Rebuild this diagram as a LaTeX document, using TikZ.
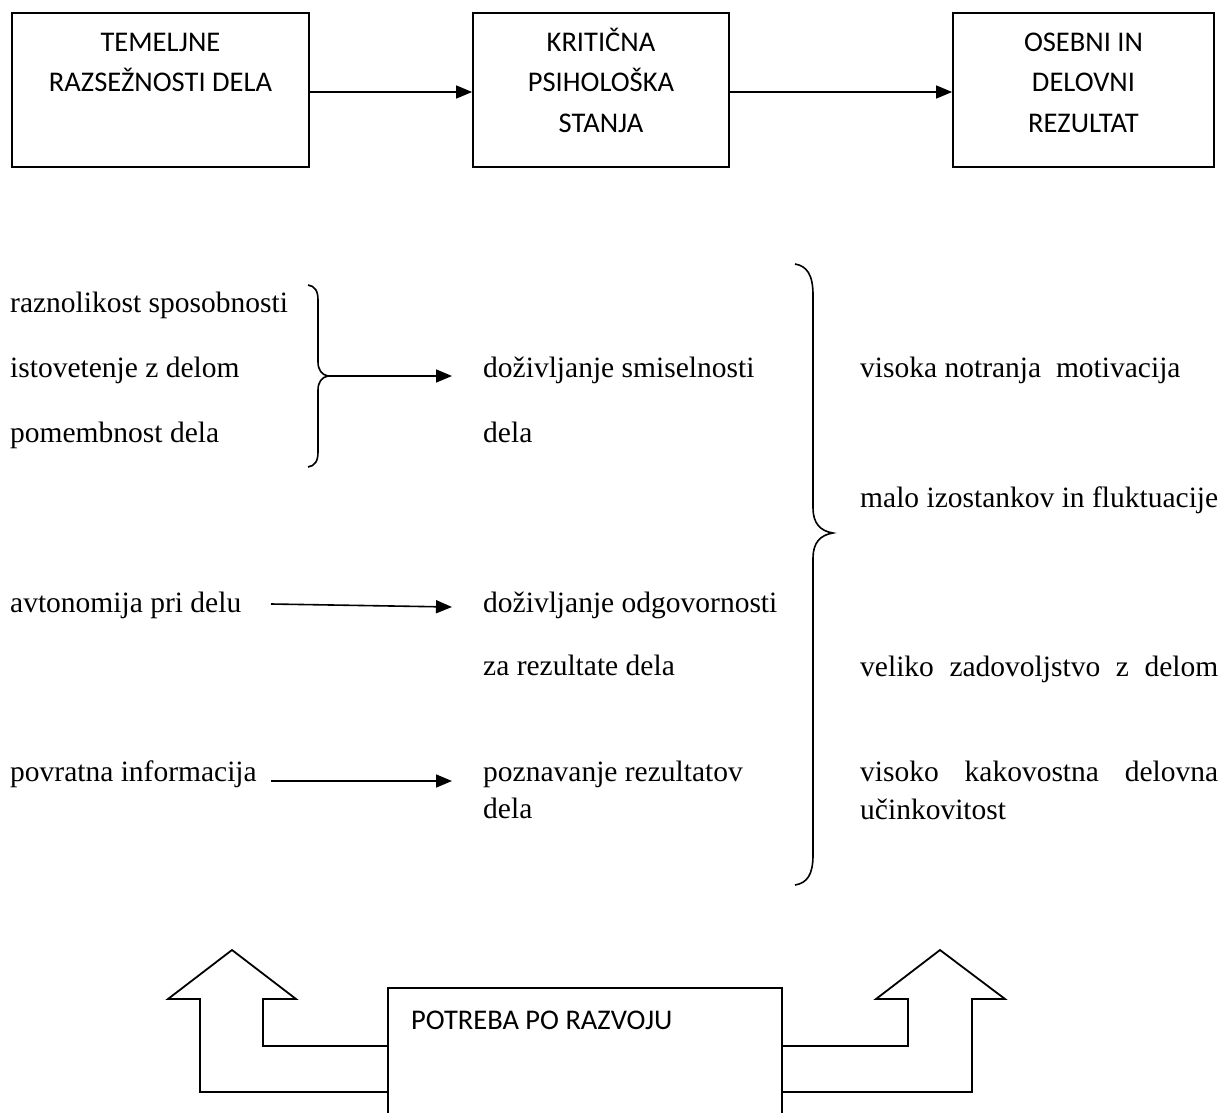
\documentclass[tikz,border=0pt]{standalone}
\usepackage{fontspec}
\setmainfont{Liberation Serif}
\newfontfamily\boxfnt{Carlito}
\usetikzlibrary{arrows.meta}
\newcommand\mysf{\boxfnt\fontsize{28.5}{34}\selectfont}
\newcommand\myrm{\rmfamily\fontsize{29.5}{35}\selectfont}
\tikzset{
  box/.style={draw, line width=1.8pt, rectangle, inner sep=0pt},
  sftext/.style={font=\mysf, anchor=base, inner sep=0pt},
  rmtext/.style={font=\myrm, anchor=base west, inner sep=0pt},
  conn/.style={line width=1.6pt, -{Triangle[length=16pt,width=13pt]}},
  bracestyle/.style={line width=1.6pt},
  bigarrow/.style={line width=1.8pt, line join=miter},
}
\begin{document}
\begin{tikzpicture}[x=1pt,y=-1pt]
\useasboundingbox (0,0) rectangle (1231,1113);
\clip (0,0) rectangle (1231,1113);
\fill[white] (0,0) rectangle (1231,1113);

% top boxes
\node[box, minimum width=297pt, minimum height=154pt] (b1) at (160.5,90) {};
\node[box, minimum width=256pt, minimum height=154pt] (b2) at (601,90) {};
\node[box, minimum width=261pt, minimum height=154pt] (b3) at (1083.5,90) {};
\node[sftext] (t1a) at (160.5,52) {TEMELJNE};
\node[sftext] (t1b) at (160.5,92) {RAZSEŽNOSTI DELA};
\node[sftext] (t2a) at (601,52) {KRITIČNA};
\node[sftext] (t2b) at (601,92) {PSIHOLOŠKA};
\node[sftext] (t2c) at (601,132) {STANJA};
\node[sftext] (t3a) at (1083.5,52) {OSEBNI IN};
\node[sftext] (t3b) at (1083.5,92) {DELOVNI};
\node[sftext] (t3c) at (1083.5,132) {REZULTAT};
\draw[conn] ([yshift=-2pt]b1.east) -- ([yshift=-2pt]b2.west);
\draw[conn] ([yshift=-2pt]b2.east) -- ([yshift=-2pt]b3.west);

% left column
\node[rmtext] (r1) at (10,312) {raznolikost sposobnosti};
\node[rmtext] (r2) at (10,377) {istovetenje z delom};
\node[rmtext] (r3) at (10,442) {pomembnost dela};
\node[rmtext] (r4) at (10,612) {avtonomija pri delu};
\node[rmtext] (r5) at (10,781) {povratna informacija};

% middle column
\node[rmtext] (m1) at (483,377) {doživljanje smiselnosti};
\node[rmtext] (m2) at (483,442) {dela};
\node[rmtext] (m3) at (483,612) {doživljanje odgovornosti};
\node[rmtext] (m4) at (483,675) {za rezultate dela};
\node[rmtext] (m5) at (483,781) {poznavanje rezultatov};
\node[rmtext] (m6) at (483,818) {dela};

% right column
\node[rmtext] (o1) at (860,377) {visoka notranja\ \ motivacija};
\node[rmtext] (o2) at (860,507) {malo izostankov in fluktuacije};
\node[rmtext] (o3) at (860,676) {\makebox[358pt][s]{veliko zadovoljstvo z delom}};
\node[rmtext] (o4) at (860,781) {\makebox[358pt][s]{visoko\hfill kakovostna\hfill delovna}};
\node[rmtext] (o5) at (860,819) {učinkovitost};

% small brace
\draw[bracestyle] (308,285) .. controls (315,286) and (318,291) .. (318,300)
  -- (318,362) .. controls (318,370) and (322,375) .. (328,376)
  .. controls (322,377) and (318,382) .. (318,390)
  -- (318,452) .. controls (318,461) and (315,466) .. (308,467);
\coordinate (lbtip) at (328,376);
\coordinate (ae1) at (452,376);
\draw[conn] (lbtip) -- (ae1);

\coordinate (as2) at (271,604);
\coordinate (ae2) at (452,607);
\draw[conn] (as2) -- (ae2);
\coordinate (as3) at (271,781);
\coordinate (ae3) at (452,781);
\draw[conn] (as3) -- (ae3);

% big brace
\draw[bracestyle] (795,264) .. controls (807,266) and (813,275) .. (813,295)
  -- (813,508) .. controls (813,523) and (820,531) .. (833,533)
  .. controls (820,535) and (813,543) .. (813,558)
  -- (813,855) .. controls (813,875) and (807,883) .. (795,885);

% bottom box
\node[box, minimum width=394pt, minimum height=160pt] (pb) at (585,1068) {};
\node[sftext, anchor=base west] (pt) at (411,1029) {POTREBA PO RAZVOJU};

% big arrows
\draw[bigarrow] (pb.west |- 0,1092) -- (200,1092) -- (200,999) -- (168,999)
  -- (232,950) -- (296,999) -- (263,999) -- (263,1046) -- (pb.west |- 0,1046);
\draw[bigarrow] (pb.east |- 0,1046) -- (908,1046) -- (908,999) -- (876,999)
  -- (940,950) -- (1005,999) -- (972,999) -- (972,1092) -- (pb.east |- 0,1092);
\end{tikzpicture}
\end{document}
